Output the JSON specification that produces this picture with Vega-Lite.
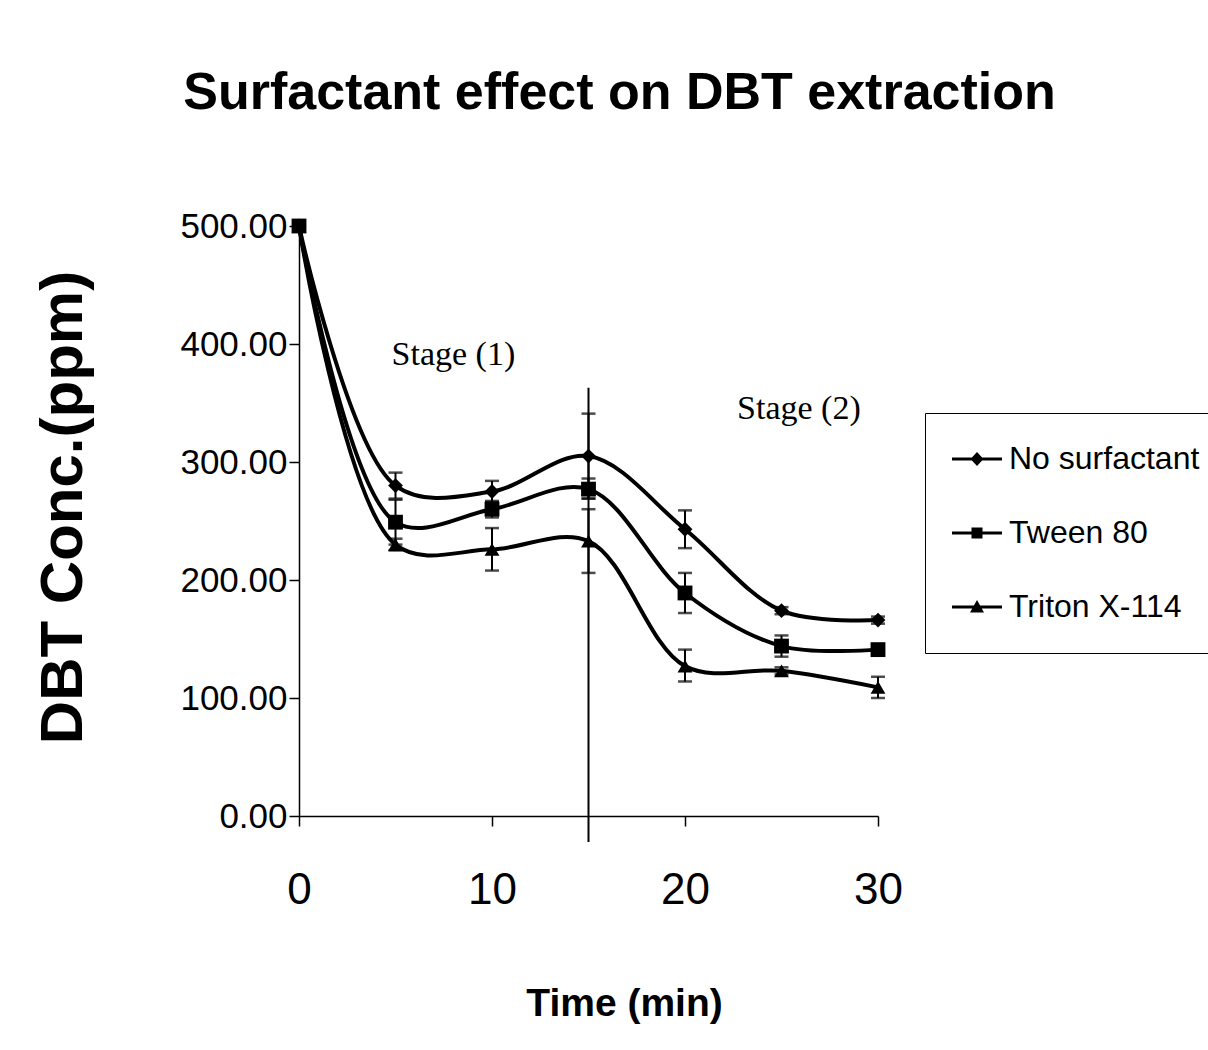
{
  "$schema": "https://vega.github.io/schema/vega-lite/v6.json",
  "width": 579,
  "height": 590,
  "autosize": {"type": "none"},
  "padding": {"left": 299, "top": 226, "right": 330, "bottom": 234},
  "background": "white",
  "config": {
    "view": {"stroke": null},
    "font": "Liberation Sans"
  },
  "title": {
    "text": "Surfactant effect on DBT extraction",
    "font": "Liberation Sans",
    "fontSize": 52,
    "fontWeight": "bold",
    "color": "black",
    "anchor": "middle",
    "frame": "group",
    "dx": 31,
    "offset": 89
  },
  "datasets": {
    "main": [
      {"t": 0, "c": 500, "lo": 497, "hi": 503, "s": "No surfactant"},
      {"t": 5, "c": 280, "lo": 269, "hi": 291, "s": "No surfactant"},
      {"t": 10, "c": 275, "lo": 266, "hi": 284, "s": "No surfactant"},
      {"t": 15, "c": 305, "lo": 269, "hi": 341, "s": "No surfactant"},
      {"t": 20, "c": 243, "lo": 227, "hi": 259, "s": "No surfactant"},
      {"t": 25, "c": 174, "lo": 171, "hi": 177, "s": "No surfactant"},
      {"t": 30, "c": 166, "lo": 163, "hi": 169, "s": "No surfactant"},
      {"t": 0, "c": 500, "lo": 497, "hi": 503, "s": "Tween 80"},
      {"t": 5, "c": 249, "lo": 230, "hi": 268, "s": "Tween 80"},
      {"t": 10, "c": 260, "lo": 253, "hi": 267, "s": "Tween 80"},
      {"t": 15, "c": 277, "lo": 269, "hi": 286, "s": "Tween 80"},
      {"t": 20, "c": 189, "lo": 172, "hi": 206, "s": "Tween 80"},
      {"t": 25, "c": 144, "lo": 135, "hi": 153, "s": "Tween 80"},
      {"t": 30, "c": 141, "lo": 137, "hi": 145, "s": "Tween 80"},
      {"t": 0, "c": 500, "lo": 497, "hi": 503, "s": "Triton X-114"},
      {"t": 5, "c": 230, "lo": 225, "hi": 235, "s": "Triton X-114"},
      {"t": 10, "c": 226, "lo": 208, "hi": 244, "s": "Triton X-114"},
      {"t": 15, "c": 233, "lo": 206, "hi": 260, "s": "Triton X-114"},
      {"t": 20, "c": 127, "lo": 114, "hi": 141, "s": "Triton X-114"},
      {"t": 25, "c": 123, "lo": 120, "hi": 126, "s": "Triton X-114"},
      {"t": 30, "c": 109, "lo": 100, "hi": 118, "s": "Triton X-114"}
    ],
    "divider": [{"t": 15, "y1": -22, "y2": 363}],
    "notes": [
      {"t": 8.0, "c": 391, "label": "Stage (1)"},
      {"t": 25.9, "c": 345, "label": "Stage (2)"}
    ]
  },
  "data": {"name": "main"},
  "encoding": {
    "x": {
      "field": "t", "type": "quantitative",
      "scale": {"domain": [0, 30], "nice": false, "zero": false},
      "axis": {
        "title": "Time (min)",
        "values": [0, 10, 20, 30],
        "grid": false,
        "labelFlush": false,
        "domainColor": "black",
        "domainWidth": 1.5,
        "tickColor": "black",
        "tickWidth": 1.5,
        "tickSize": 10,
        "labelFont": "Liberation Sans",
        "labelFontSize": 44,
        "labelColor": "black",
        "labelPadding": 42,
        "titleFont": "Liberation Sans",
        "titleFontSize": 39,
        "titleFontWeight": "bold",
        "titleColor": "black",
        "titlePadding": 72,
        "titleX": 325
      }
    },
    "y": {
      "field": "c", "type": "quantitative",
      "scale": {"domain": [0, 500], "nice": false},
      "axis": {
        "title": "DBT Conc.(ppm)",
        "values": [0, 100, 200, 300, 400, 500],
        "format": ".2f",
        "grid": false,
        "domainColor": "black",
        "domainWidth": 1.5,
        "tickColor": "black",
        "tickWidth": 1.5,
        "tickSize": 10,
        "labelFont": "Liberation Sans",
        "labelFontSize": 35,
        "labelColor": "black",
        "labelPadding": 2,
        "titleFont": "Liberation Sans",
        "titleFontSize": 60,
        "titleFontWeight": "bold",
        "titleColor": "black",
        "titlePadding": 85,
        "titleY": 281
      }
    }
  },
  "layer": [
    {
      "data": {"name": "divider"},
      "mark": {"type": "rule", "color": "black", "strokeWidth": 2},
      "encoding": {
        "x": {"field": "t", "type": "quantitative"},
        "y": {"field": "y1", "type": "quantitative"},
        "y2": {"field": "y2"}
      }
    },
    {
      "mark": {"type": "rule", "color": "black", "strokeWidth": 2},
      "encoding": {
        "y": {"field": "lo", "type": "quantitative"},
        "y2": {"field": "hi"}
      }
    },
    {
      "mark": {"type": "tick", "orient": "horizontal", "color": "black", "size": 14, "thickness": 2.5},
      "encoding": {"y": {"field": "lo", "type": "quantitative"}}
    },
    {
      "mark": {"type": "tick", "orient": "horizontal", "color": "black", "size": 14, "thickness": 2.5},
      "encoding": {"y": {"field": "hi", "type": "quantitative"}}
    },
    {
      "mark": {"type": "line", "interpolate": "catmull-rom", "color": "black", "strokeWidth": 4},
      "encoding": {"detail": {"field": "s", "type": "nominal"}}
    },
    {
      "mark": {"type": "point", "filled": true, "color": "black", "opacity": 1, "size": 220},
      "encoding": {
        "shape": {
          "field": "s", "type": "nominal",
          "scale": {"domain": ["No surfactant", "Tween 80", "Triton X-114"], "range": ["diamond", "square", "triangle-up"]},
          "legend": null
        }
      }
    },
    {
      "mark": {"type": "point", "filled": true, "color": "black", "opacity": 0, "size": 400},
      "encoding": {
        "shape": {
          "field": "s", "type": "nominal",
          "scale": {
            "domain": ["No surfactant", "Tween 80", "Triton X-114"],
            "range": [
              "M-1.9,-0.14H3.1V0.14H-1.9Z M0.6,-0.7L1.25,0L0.6,0.7L-0.05,0Z",
              "M-1.9,-0.14H3.1V0.14H-1.9Z M0.05,-0.55H1.15V0.55H0.05Z",
              "M-1.9,-0.14H3.1V0.14H-1.9Z M0.6,-0.7L1.3,0.55H-0.1Z"
            ]
          },
          "legend": {
            "title": null,
            "orient": "none",
            "legendX": 626,
            "legendY": 187,
            "padding": 30,
            "strokeColor": "black",
            "fillColor": "white",
            "symbolSize": 400,
            "symbolOpacity": 1,
            "symbolFillColor": "black",
            "symbolStrokeColor": "black",
            "symbolStrokeWidth": 0,
            "labelFont": "Liberation Sans",
            "labelFontSize": 32,
            "labelColor": "black",
            "labelOffset": 22,
            "labelLimit": 400,
            "rowPadding": 42,
            "encode": {
              "symbols": {
                "update": {
                  "fill": {"value": "black"},
                  "fillOpacity": {"value": 1},
                  "opacity": {"value": 1}
                }
              }
            }
          }
        }
      }
    },
    {
      "data": {"name": "notes"},
      "mark": {"type": "text", "font": "Liberation Serif", "fontSize": 34, "color": "black", "align": "center", "baseline": "middle"},
      "encoding": {
        "text": {"field": "label", "type": "nominal"}
      }
    }
  ],
  "resolve": {"scale": {"shape": "independent"}}
}
